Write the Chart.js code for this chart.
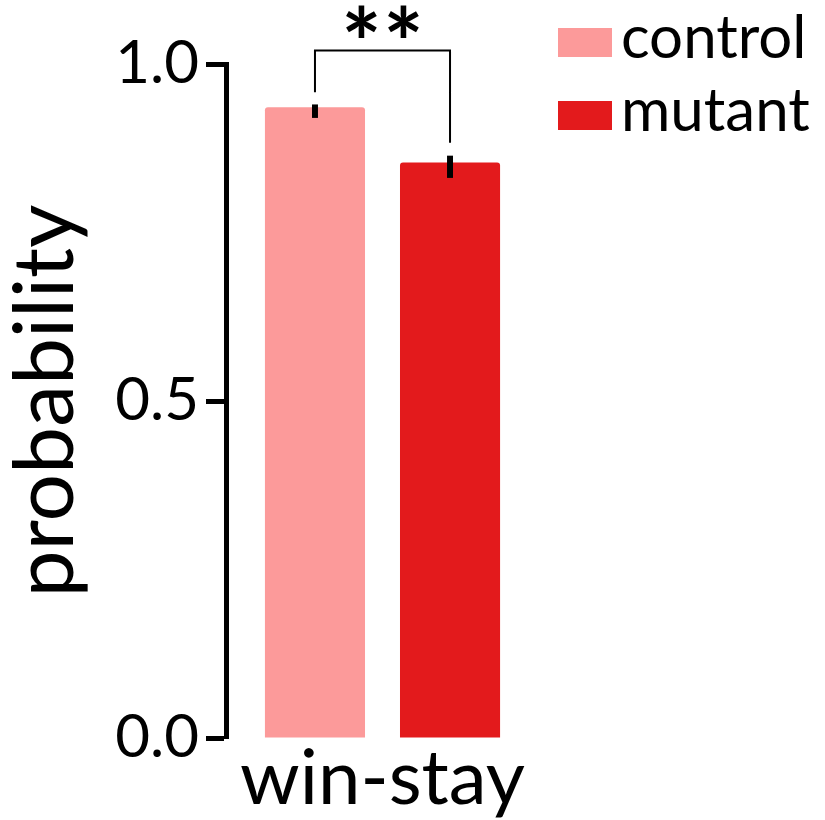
<!DOCTYPE html>
<html>
<head>
<meta charset="utf-8">
<script src="https://cdn.jsdelivr.net/npm/chart.js@4.4.0/dist/chart.umd.min.js"></script>
<style>
  html, body { margin: 0; padding: 0; background: #fff; }
</style>
</head>
<body>
<canvas id="c" width="825" height="820"></canvas>
<script>
// win-stay probability, control vs mutant

const CATEGORIES = ["win-stay"];
const GROUPS = ["control", "mutant"];
const MEANS = [0.936, 0.854];
const ERR_LOW = [0.920, 0.831];
const ERR_HIGH = [0.940, 0.864];
const COLORS = ["#FC9A9A", "#E31A1C"];
const Y_TICKS = [0, 0.5, 1];
const SIG = "**";
// bracket: top level, and where each leg stops
const BRACKET = { top: 1.02, left: 0.958, right: 0.883 };

const FONT = "Lato, 'Open Sans', sans-serif";
Chart.defaults.font.family = FONT;
Chart.defaults.color = "#000";

// error bars, significance bracket and the legend
const annotate = {
  id: "annotate",
  afterDraw(chart) {
    const { ctx } = chart;
    const y = chart.scales.y;
    const xs = GROUPS.map((_, i) => chart.getDatasetMeta(i).data[0].x);
    ctx.save();
    ctx.strokeStyle = "#000";
    ctx.lineCap = "butt";

    ctx.lineWidth = 6;
    xs.forEach((x, i) => {
      ctx.beginPath();
      ctx.moveTo(x, y.getPixelForValue(ERR_LOW[i]));
      ctx.lineTo(x, y.getPixelForValue(ERR_HIGH[i]));
      ctx.stroke();
    });

    const top = y.getPixelForValue(BRACKET.top);
    ctx.lineWidth = 2;
    ctx.beginPath();
    ctx.moveTo(xs[0], y.getPixelForValue(BRACKET.left));
    ctx.lineTo(xs[0], top);
    ctx.lineTo(xs[1], top);
    ctx.lineTo(xs[1], y.getPixelForValue(BRACKET.right));
    ctx.stroke();

    ctx.fillStyle = "#000";
    ctx.font = `bold 95px ${FONT}`;
    ctx.textAlign = "center";
    ctx.textBaseline = "alphabetic";
    const mid = (xs[0] + xs[1]) / 2;
    [...SIG].forEach((s, i) => {
      ctx.fillText(s, mid + (i - (SIG.length - 1) / 2) * 42, top + 27);
    });

    // legend, top right
    ctx.font = `60px ${FONT}`;
    ctx.textAlign = "left";
    GROUPS.forEach((g, i) => {
      const top = 28 + i * 73;
      ctx.fillStyle = COLORS[i];
      ctx.fillRect(558, top, 54, 29);
      ctx.fillStyle = "#000";
      ctx.fillText(g, 621, top + 30);
    });
    ctx.restore();
  },
};

new Chart(document.getElementById("c"), {
  type: "bar",
  data: {
    labels: CATEGORIES,
    datasets: GROUPS.map((g, i) => ({
      label: g,
      data: [MEANS[i]],
      backgroundColor: COLORS[i],
      borderWidth: 0,
      borderRadius: { topLeft: 3, topRight: 3 },
      borderSkipped: false,
      categoryPercentage: 0.863,
      barPercentage: 0.741,
    })),
  },
  options: {
    responsive: false,
    animation: false,
    layout: { padding: { top: 64, right: 286, left: 0, bottom: 0 } },
    plugins: { legend: { display: false }, tooltip: { enabled: false } },
    scales: {
      x: {
        grid: { display: false },
        border: { display: false },
        ticks: { font: { size: 76 }, padding: -12 },
        afterFit(s) { s.height = 82; },
      },
      y: {
        min: 0,
        max: 1,
        afterBuildTicks(s) { s.ticks = Y_TICKS.map((v) => ({ value: v })); },
        ticks: { font: { size: 60 }, padding: 7, callback: (v) => v.toFixed(1) },
        grid: { display: true, drawOnChartArea: false, tickLength: 20, tickWidth: 5, tickColor: "#000" },
        border: { display: true, width: 5, color: "#000" },
        title: { display: true, text: "probability", font: { size: 84 }, padding: { top: -4, bottom: 0 } },
        afterFit(s) { s.width = 226; },
      },
    },
  },
  plugins: [annotate],
});
</script>
</body>
</html>
